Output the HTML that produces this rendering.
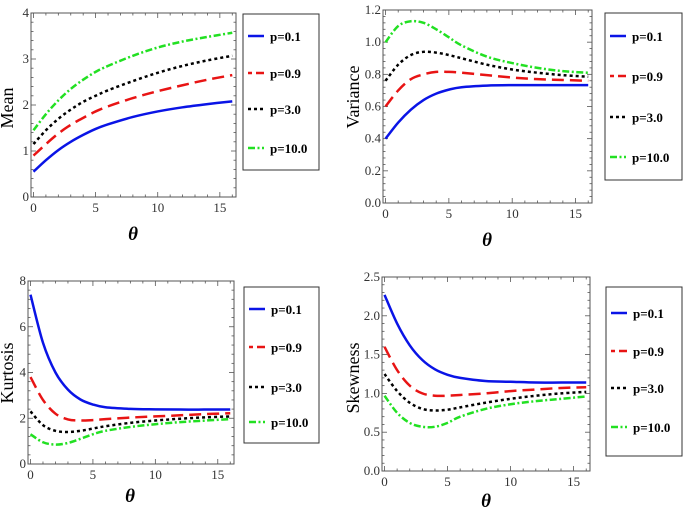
<!DOCTYPE html>
<html><head><meta charset="utf-8"><style>
html,body{margin:0;padding:0;background:#fff;}
svg{display:block;font-family:"Liberation Serif",serif;}
</style></head><body>
<svg id="fig" width="685" height="509" viewBox="0 0 685 509"></svg>
<script>
const thetas=[0,1,2,3,4,5,6,8,10,12,14,16];
const seriesNames=["p=0.1","p=0.9","p=3.0","p=10.0"];
const meanP01=[0.55,0.8,1.02,1.2,1.35,1.48,1.58,1.74,1.86,1.95,2.02,2.08];
const meanP09=[0.9,1.15,1.38,1.57,1.72,1.86,1.97,2.15,2.3,2.43,2.55,2.65];
const meanP3=[1.15,1.45,1.7,1.9,2.07,2.2,2.32,2.52,2.7,2.85,2.97,3.07];
const meanP10=[1.45,1.8,2.1,2.35,2.55,2.72,2.85,3.07,3.25,3.38,3.48,3.57];
const varP01=[0.4,0.5,0.58,0.64,0.68,0.705,0.72,0.73,0.733,0.733,0.733,0.733];
const varP09=[0.6,0.7,0.77,0.8,0.815,0.815,0.81,0.795,0.78,0.77,0.765,0.76];
const varP3=[0.76,0.86,0.92,0.94,0.935,0.92,0.9,0.86,0.83,0.81,0.795,0.785];
const varP10=[1.0,1.1,1.13,1.12,1.08,1.03,0.98,0.91,0.87,0.84,0.82,0.81];
const kurP01=[7.4,5.3,4.0,3.25,2.82,2.6,2.48,2.41,2.39,2.38,2.38,2.38];
const kurP09=[3.8,2.8,2.2,1.95,1.9,1.92,1.96,2.03,2.08,2.13,2.18,2.22];
const kurP3=[2.3,1.7,1.45,1.4,1.45,1.55,1.65,1.8,1.9,1.98,2.04,2.08];
const kurP10=[1.3,0.95,0.85,0.92,1.1,1.3,1.45,1.62,1.74,1.83,1.9,1.96];
const skwP01=[2.27,1.9,1.62,1.43,1.31,1.24,1.2,1.16,1.15,1.14,1.14,1.14];
const skwP09=[1.6,1.3,1.1,1.0,0.97,0.97,0.98,1.0,1.03,1.05,1.07,1.08];
const skwP3=[1.25,1.03,0.88,0.8,0.78,0.79,0.82,0.88,0.93,0.97,1.0,1.02];
const skwP10=[0.97,0.75,0.62,0.57,0.57,0.62,0.7,0.8,0.86,0.9,0.93,0.96];
const xTicks=[0,5,10,15];
const meanTicks=["0","1","2","3","4"];
const varTicks=["0.0","0.2","0.4","0.6","0.8","1.0","1.2"];
const kurTicks=["0","2","4","6","8"];
const skwTicks=["0.0","0.5","1.0","1.5","2.0","2.5"];

const NS="http://www.w3.org/2000/svg";
const svg=document.getElementById('fig');
function mk(tag,attrs,parent){const e=document.createElementNS(NS,tag);for(const k in attrs)e.setAttribute(k,attrs[k]);(parent||svg).appendChild(e);return e;}
const colors=["#0a14e6","#e81414","#000000","#22e022"];
const dashes=["","12,6","3,3","7,2.5,2,2.5"];

function panel(o){
  const g=mk('g',{});
  
  
  const xmin=-0.2,xmax=16.3;
  const X=v=>o.L+(v-xmin)/(xmax-xmin)*(o.R-o.L);
  const Y=v=>o.B-(v-o.ymin)/(o.ymax-o.ymin)*(o.B-o.T);
  const fr=mk('rect',{x:o.L,y:o.T,width:o.R-o.L,height:o.B-o.T,fill:'none',stroke:'#555','stroke-width':1},g);
  
  
  for(let v=0;v<=16;v+=1){
    const major=v%5===0,len=major?5:2.5,x=X(v);
    mk('line',{x1:x,y1:o.B,x2:x,y2:o.B-len,stroke:'#555','stroke-width':0.8},g);
    mk('line',{x1:x,y1:o.T,x2:x,y2:o.T+len,stroke:'#555','stroke-width':0.8},g);
  }
  xTicks.forEach(v=>{const t=mk('text',{x:X(v),y:o.B+15,'font-size':13,'text-anchor':'middle',fill:'#333'},g);t.textContent=v;
    });
  const n=o.ticks.length, step=(o.ymax-o.ymin)/(n-1);
  for(let i=0;i<n;i++){
    const v=o.ymin+i*step,y=Y(v);
    mk('line',{x1:o.L,y1:y,x2:o.L+5,y2:y,stroke:'#555','stroke-width':0.8},g);
    mk('line',{x1:o.R,y1:y,x2:o.R-5,y2:y,stroke:'#555','stroke-width':0.8},g);
    if(i<n-1){for(let k=1;k<5;k++){const yy=Y(v+step*k/5);
      mk('line',{x1:o.L,y1:yy,x2:o.L+2.5,y2:yy,stroke:'#555','stroke-width':0.8},g);
      mk('line',{x1:o.R,y1:yy,x2:o.R-2.5,y2:yy,stroke:'#555','stroke-width':0.8},g);}}
    const t=mk('text',{x:o.L-2,y:y+4,'font-size':13,'text-anchor':'end',fill:'#333'},g);t.textContent=o.ticks[i];
    
  }
  const xl=mk('text',{x:o.thx,y:o.thy,'font-size':19,'font-style':'italic','font-weight':'bold','text-anchor':'middle'},g);xl.textContent='θ';
  
  const yl=mk('text',{x:0,y:0,'font-size':18,'text-anchor':'middle',transform:`translate(${o.ylx},${o.yly}) rotate(-90)`},g);yl.textContent=o.ylabel;
  
  o.series.forEach((arr,si)=>{
    const pts=arr.map((v,i)=>[X(thetas[i]),Y(v)]);
    let d=`M${pts[0][0]},${pts[0][1]}`;
    for(let i=0;i<pts.length-1;i++){
      const p0=pts[Math.max(0,i-1)],p1=pts[i],p2=pts[i+1],p3=pts[Math.min(pts.length-1,i+2)];
      const c1=[p1[0]+(p2[0]-p0[0])/6,p1[1]+(p2[1]-p0[1])/6];
      const c2=[p2[0]-(p3[0]-p1[0])/6,p2[1]-(p3[1]-p1[1])/6];
      d+=` C${c1[0]},${c1[1]} ${c2[0]},${c2[1]} ${p2[0]},${p2[1]}`;
    }
    const p=mk('path',{d:d,fill:'none',stroke:colors[si],'stroke-width':2.5,'stroke-dasharray':dashes[si]},g);
    
    
  });
  const lg=mk('g',{},g);
  
  
  mk('rect',{x:o.lx,y:o.ly,width:o.lw,height:o.lh,fill:'#fff',stroke:'#333','stroke-width':1},lg);
  o.ey.forEach((y,si)=>{
    const e=mk('g',{},lg);
    
    
    mk('line',{x1:o.lx+5,y1:y,x2:o.lx+21,y2:y,stroke:colors[si],'stroke-width':2.5,'stroke-dasharray':si===1?'4,4,8,0':dashes[si]},e);
    const t=mk('text',{x:o.lx+27,y:y+5,'font-size':13,'font-weight':'bold'},e);t.textContent=seriesNames[si];
  });
}
panel({name:'mean',L:31,R:236,T:13,B:197,ymin:0,ymax:4,ticks:meanTicks,ylabel:'Mean',ylx:13,yly:108,thx:133,thy:240,
  series:[meanP01,meanP09,meanP3,meanP10],lx:243,ly:14,lw:76,lh:156,ey:[36,73,109,148]});
panel({name:'variance',L:383,R:592,T:10,B:203,ymin:0,ymax:1.2,ticks:varTicks,ylabel:'Variance',ylx:359,yly:97,thx:487,thy:246,
  series:[varP01,varP09,varP3,varP10],lx:605,ly:13,lw:77,lh:167,ey:[36,76,117,157]});
panel({name:'kurtosis',L:28,R:234,T:281,B:464,ymin:0,ymax:8,ticks:kurTicks,ylabel:'Kurtosis',ylx:13,yly:373,thx:130,thy:502,
  series:[kurP01,kurP09,kurP3,kurP10],lx:244,ly:287,lw:75,lh:156,ey:[309,347,387,422]});
panel({name:'skewness',L:382,R:590,T:277,B:471,ymin:0,ymax:2.5,ticks:skwTicks,ylabel:'Skewness',ylx:359,yly:378,thx:486,thy:507,
  series:[skwP01,skwP09,skwP3,skwP10],lx:606,ly:287,lw:76,lh:169,ey:[313,351,388,427]});
</script>
</body></html>
